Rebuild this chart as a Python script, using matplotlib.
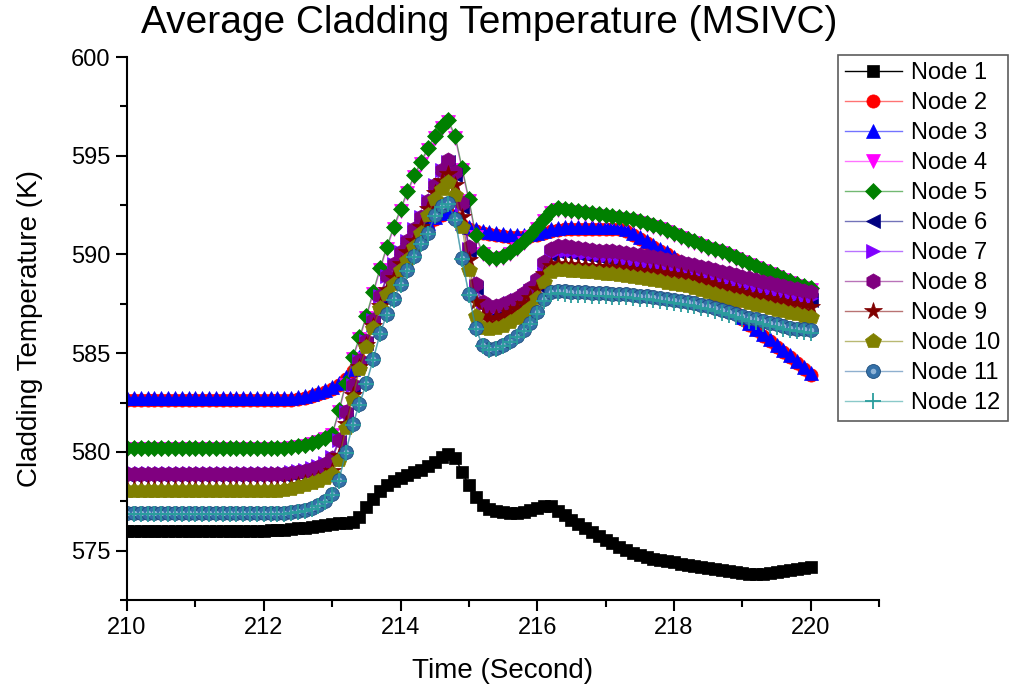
import numpy as np
import matplotlib
matplotlib.use("Agg")
import matplotlib.pyplot as plt
from matplotlib.colors import to_rgba
from matplotlib.ticker import MultipleLocator
from matplotlib.legend_handler import HandlerTuple

plt.rcParams['font.family'] = ['Liberation Sans', 'DejaVu Sans']

# Time grid: 0.1 s samples from 210 s to 220 s
time_s = np.linspace(210.0, 220.0, 101)

node1 = [
    576.0, 576.0, 576.0, 576.0, 576.0, 576.0, 576.0, 576.0, 576.0, 576.0,
    576.0, 576.0, 576.0, 576.0, 576.0, 576.0, 576.0, 576.0, 576.0, 576.0,
    576.0, 576.02, 576.05, 576.07, 576.1, 576.13, 576.17, 576.2, 576.25, 576.3,
    576.35, 576.38, 576.4, 576.45, 576.7, 577.2, 577.6, 578.0, 578.3, 578.55,
    578.7, 578.85, 579.0, 579.1, 579.3, 579.5, 579.75, 579.9, 579.7, 579.0,
    578.3, 577.7, 577.3, 577.1, 577.0, 576.95, 576.9, 576.9, 576.95, 577.05,
    577.15, 577.25, 577.25, 577.0, 576.8, 576.55, 576.35, 576.15, 575.95, 575.75,
    575.55, 575.4, 575.2, 575.05, 574.9, 574.8, 574.7, 574.6, 574.55, 574.45,
    574.4, 574.3, 574.25, 574.2, 574.15, 574.1, 574.05, 574.0, 573.95, 573.9,
    573.85, 573.8, 573.8, 573.8, 573.85, 573.9, 573.95, 574.0, 574.05, 574.1,
    574.15]

node2 = [
    582.65, 582.65, 582.65, 582.65, 582.65, 582.65, 582.65, 582.65, 582.65, 582.65,
    582.65, 582.65, 582.65, 582.65, 582.65, 582.65, 582.65, 582.65, 582.65, 582.65,
    582.65, 582.65, 582.65, 582.65, 582.65, 582.7, 582.75, 582.85, 582.95, 583.05,
    583.2, 583.4, 583.7, 584.1, 584.7, 585.5, 586.4, 587.3, 588.1, 588.8,
    589.5, 590.1, 590.6, 591.1, 591.5, 591.8, 592.0, 592.1, 591.9, 591.5,
    591.3, 591.2, 591.1, 591.05, 591.0, 590.95, 590.9, 590.9, 590.9, 590.95,
    591.0, 591.1, 591.2, 591.25, 591.3, 591.3, 591.3, 591.3, 591.3, 591.3,
    591.3, 591.3, 591.3, 591.2, 591.0, 590.8, 590.6, 590.4, 590.2, 590.0,
    589.75, 589.45, 589.15, 588.85, 588.55, 588.25, 587.95, 587.65, 587.35, 587.05,
    586.75, 586.45, 586.15, 585.85, 585.6, 585.3, 585.05, 584.8, 584.5, 584.2,
    583.9]

node3 = [
    582.75, 582.75, 582.75, 582.75, 582.75, 582.75, 582.75, 582.75, 582.75, 582.75,
    582.75, 582.75, 582.75, 582.75, 582.75, 582.75, 582.75, 582.75, 582.75, 582.75,
    582.75, 582.75, 582.75, 582.75, 582.75, 582.8, 582.85, 582.95, 583.05, 583.15,
    583.3, 583.5, 583.8, 584.2, 584.8, 585.6, 586.5, 587.4, 588.2, 588.9,
    589.6, 590.2, 590.7, 591.2, 591.6, 591.9, 592.1, 592.2, 592.0, 591.6,
    591.4, 591.3, 591.2, 591.15, 591.1, 591.05, 591.0, 591.0, 591.0, 591.05,
    591.1, 591.2, 591.3, 591.35, 591.4, 591.4, 591.4, 591.4, 591.4, 591.4,
    591.4, 591.4, 591.4, 591.3, 591.1, 590.9, 590.7, 590.5, 590.3, 590.1,
    589.85, 589.55, 589.25, 588.95, 588.65, 588.35, 588.05, 587.75, 587.45, 587.15,
    586.85, 586.55, 586.25, 585.95, 585.7, 585.4, 585.15, 584.9, 584.6, 584.3,
    584.0]

node4 = [
    580.15, 580.15, 580.15, 580.15, 580.15, 580.15, 580.15, 580.15, 580.15, 580.15,
    580.15, 580.15, 580.15, 580.15, 580.15, 580.15, 580.15, 580.15, 580.15, 580.15,
    580.15, 580.15, 580.15, 580.15, 580.2, 580.25, 580.3, 580.4, 580.5, 580.65,
    580.85, 582.0, 583.4, 584.7, 585.7, 586.8, 588.0, 589.2, 590.3, 591.3,
    592.2, 593.1, 593.9, 594.6, 595.3, 595.9, 596.4, 596.7, 595.9, 594.3,
    592.7, 590.9, 590.0, 589.75, 589.7, 589.8, 590.0, 590.3, 590.6, 590.9,
    591.3, 591.7, 592.1, 592.25, 592.2, 592.15, 592.1, 592.05, 592.0, 591.95,
    591.9, 591.85, 591.8, 591.75, 591.7, 591.6, 591.5, 591.4, 591.3, 591.15,
    591.0, 590.85, 590.7, 590.6, 590.45, 590.3, 590.2, 590.05, 589.9, 589.75,
    589.6, 589.45, 589.3, 589.15, 589.0, 588.85, 588.7, 588.55, 588.4, 588.3,
    588.2]

node5 = [
    580.2, 580.2, 580.2, 580.2, 580.2, 580.2, 580.2, 580.2, 580.2, 580.2,
    580.2, 580.2, 580.2, 580.2, 580.2, 580.2, 580.2, 580.2, 580.2, 580.2,
    580.2, 580.2, 580.2, 580.2, 580.25, 580.3, 580.35, 580.45, 580.55, 580.7,
    580.9, 582.1, 583.5, 584.8, 585.8, 586.9, 588.1, 589.3, 590.4, 591.4,
    592.3, 593.2, 594.0, 594.7, 595.4, 596.0, 596.5, 596.8, 596.0, 594.4,
    592.8, 591.0, 590.1, 589.85, 589.8, 589.9, 590.1, 590.4, 590.7, 591.0,
    591.4, 591.8, 592.2, 592.35, 592.3, 592.25, 592.2, 592.15, 592.1, 592.05,
    592.0, 591.95, 591.9, 591.85, 591.8, 591.7, 591.6, 591.5, 591.4, 591.25,
    591.1, 590.95, 590.8, 590.7, 590.55, 590.4, 590.3, 590.15, 590.0, 589.85,
    589.7, 589.55, 589.4, 589.25, 589.1, 588.95, 588.8, 588.65, 588.5, 588.4,
    588.3]

node6 = [
    578.85, 578.85, 578.85, 578.85, 578.85, 578.85, 578.85, 578.85, 578.85, 578.85,
    578.85, 578.85, 578.85, 578.85, 578.85, 578.85, 578.85, 578.85, 578.85, 578.85,
    578.85, 578.85, 578.85, 578.85, 578.9, 578.95, 579.0, 579.1, 579.2, 579.35,
    579.65, 580.5, 581.9, 583.3, 584.5, 585.5, 586.6, 587.8, 588.8, 589.4,
    590.0, 590.6, 591.2, 591.8, 592.6, 593.4, 594.2, 594.7, 594.0, 592.4,
    590.2, 588.3, 587.4, 587.2, 587.2, 587.3, 587.45, 587.6, 587.8, 588.05,
    588.45, 589.3, 589.95, 590.1, 590.1, 590.05, 590.0, 589.95, 589.9, 589.85,
    589.8, 589.75, 589.7, 589.65, 589.6, 589.55, 589.5, 589.45, 589.4, 589.3,
    589.25, 589.2, 589.1, 589.05, 588.95, 588.9, 588.8, 588.7, 588.65, 588.55,
    588.45, 588.4, 588.3, 588.2, 588.15, 588.05, 588.0, 587.9, 587.85, 587.75,
    587.7]

node7 = [
    578.95, 578.95, 578.95, 578.95, 578.95, 578.95, 578.95, 578.95, 578.95, 578.95,
    578.95, 578.95, 578.95, 578.95, 578.95, 578.95, 578.95, 578.95, 578.95, 578.95,
    578.95, 578.95, 578.95, 578.95, 579.0, 579.05, 579.1, 579.2, 579.3, 579.45,
    579.75, 580.6, 582.0, 583.4, 584.6, 585.6, 586.7, 587.9, 588.9, 589.5,
    590.1, 590.7, 591.3, 591.9, 592.7, 593.5, 594.3, 594.7, 594.1, 592.5,
    590.3, 588.4, 587.5, 587.3, 587.3, 587.4, 587.55, 587.7, 587.9, 588.15,
    588.55, 589.4, 590.05, 590.2, 590.2, 590.15, 590.1, 590.05, 590.0, 589.95,
    589.9, 589.85, 589.8, 589.75, 589.7, 589.65, 589.6, 589.55, 589.5, 589.4,
    589.35, 589.3, 589.2, 589.15, 589.05, 589.0, 588.9, 588.8, 588.75, 588.65,
    588.55, 588.5, 588.4, 588.3, 588.25, 588.15, 588.1, 588.0, 587.95, 587.85,
    587.8]

node8 = [
    578.9, 578.9, 578.9, 578.9, 578.9, 578.9, 578.9, 578.9, 578.9, 578.9,
    578.9, 578.9, 578.9, 578.9, 578.9, 578.9, 578.9, 578.9, 578.9, 578.9,
    578.9, 578.9, 578.9, 578.9, 578.95, 579.0, 579.05, 579.15, 579.25, 579.4,
    579.7, 580.6, 582.0, 583.4, 584.6, 585.6, 586.7, 587.9, 588.9, 589.5,
    590.1, 590.7, 591.3, 591.9, 592.7, 593.5, 594.3, 594.8, 594.2, 592.6,
    590.4, 588.5, 587.6, 587.4, 587.4, 587.5, 587.65, 587.8, 588.05, 588.3,
    588.75, 589.6, 590.3, 590.45, 590.45, 590.4, 590.35, 590.3, 590.25, 590.2,
    590.2, 590.15, 590.1, 590.05, 590.0, 589.95, 589.9, 589.85, 589.8, 589.7,
    589.65, 589.6, 589.5, 589.45, 589.35, 589.3, 589.2, 589.1, 589.05, 588.95,
    588.85, 588.8, 588.7, 588.6, 588.55, 588.45, 588.4, 588.3, 588.25, 588.15,
    588.1]

node9 = [
    578.1, 578.1, 578.1, 578.1, 578.1, 578.1, 578.1, 578.1, 578.1, 578.1,
    578.1, 578.1, 578.1, 578.1, 578.1, 578.1, 578.1, 578.1, 578.1, 578.1,
    578.1, 578.1, 578.1, 578.15, 578.2, 578.3, 578.4, 578.5, 578.65, 578.8,
    579.05, 579.8, 581.4, 582.9, 584.3, 585.4, 586.4, 587.4, 588.2, 588.8,
    589.5, 590.1, 590.7, 591.4, 592.3, 593.1, 593.7, 594.1, 593.5, 591.9,
    589.7, 587.6, 586.9, 586.75, 586.8, 586.9, 587.05, 587.25, 587.5, 587.8,
    588.25, 589.0, 589.4, 589.5, 589.45, 589.45, 589.4, 589.4, 589.35, 589.35,
    589.35, 589.3, 589.3, 589.25, 589.2, 589.15, 589.1, 589.1, 589.05, 589.0,
    588.95, 588.9, 588.8, 588.75, 588.65, 588.55, 588.45, 588.35, 588.25, 588.15,
    588.05, 587.95, 587.9, 587.8, 587.75, 587.65, 587.6, 587.5, 587.45, 587.4,
    587.35]

node10 = [
    578.0, 578.0, 578.0, 578.0, 578.0, 578.0, 578.0, 578.0, 578.0, 578.0,
    578.0, 578.0, 578.0, 578.0, 578.0, 578.0, 578.0, 578.0, 578.0, 578.0,
    578.0, 578.0, 578.0, 578.05, 578.1, 578.2, 578.3, 578.4, 578.55, 578.7,
    578.9, 579.6, 581.2, 582.7, 584.2, 585.3, 586.3, 587.3, 588.0, 588.5,
    589.2, 589.7, 590.4, 591.1, 592.0, 592.8, 593.3, 593.65, 593.0, 591.4,
    589.2, 586.9, 586.3, 586.2, 586.3, 586.4, 586.6, 586.8, 587.05, 587.3,
    587.8, 588.6, 589.1, 589.2, 589.2, 589.15, 589.15, 589.1, 589.1, 589.05,
    589.0, 589.0, 588.95, 588.9, 588.85, 588.8, 588.75, 588.7, 588.65, 588.55,
    588.5, 588.45, 588.4, 588.3, 588.2, 588.1, 588.0, 587.9, 587.8, 587.7,
    587.65, 587.55, 587.45, 587.4, 587.3, 587.2, 587.15, 587.05, 587.0, 586.9,
    586.85]

node11 = [
    576.9, 576.9, 576.9, 576.9, 576.9, 576.9, 576.9, 576.9, 576.9, 576.9,
    576.9, 576.9, 576.9, 576.9, 576.9, 576.9, 576.9, 576.9, 576.9, 576.9,
    576.9, 576.9, 576.9, 576.9, 576.95, 577.0, 577.05, 577.15, 577.3, 577.5,
    577.85, 578.6, 580.0, 581.4, 582.45, 583.5, 584.7, 586.0, 587.0, 587.75,
    588.5, 589.2, 589.9, 590.6, 591.1, 592.0, 592.45, 592.6, 591.8, 589.8,
    588.0, 586.3, 585.4, 585.2, 585.25, 585.4, 585.6, 585.85, 586.15, 586.55,
    587.1, 587.75, 588.1, 588.15, 588.15, 588.1, 588.1, 588.1, 588.05, 588.05,
    588.05, 588.0, 588.0, 588.0, 587.95, 587.9, 587.9, 587.85, 587.8, 587.75,
    587.7, 587.65, 587.6, 587.55, 587.45, 587.4, 587.3, 587.2, 587.1, 587.0,
    586.9, 586.8, 586.75, 586.65, 586.55, 586.5, 586.4, 586.3, 586.25, 586.2,
    586.15]

node12 = [
    576.85, 576.85, 576.85, 576.85, 576.85, 576.85, 576.85, 576.85, 576.85, 576.85,
    576.85, 576.85, 576.85, 576.85, 576.85, 576.85, 576.85, 576.85, 576.85, 576.85,
    576.85, 576.85, 576.85, 576.85, 576.9, 576.95, 577.0, 577.1, 577.25, 577.45,
    577.8, 578.55, 579.95, 581.35, 582.4, 583.45, 584.65, 585.95, 586.95, 587.7,
    588.45, 589.15, 589.85, 590.55, 591.05, 591.95, 592.4, 592.55, 591.75, 589.75,
    587.95, 586.25, 585.35, 585.15, 585.2, 585.35, 585.55, 585.8, 586.1, 586.5,
    587.0, 587.65, 588.0, 588.05, 588.0, 587.95, 587.95, 587.95, 587.9, 587.9,
    587.9, 587.85, 587.85, 587.85, 587.8, 587.75, 587.75, 587.7, 587.65, 587.6,
    587.55, 587.5, 587.45, 587.4, 587.3, 587.25, 587.15, 587.05, 586.95, 586.85,
    586.75, 586.65, 586.6, 586.5, 586.4, 586.35, 586.25, 586.15, 586.1, 586.05,
    586.0]

labels = ["Node 1", "Node 2", "Node 3", "Node 4", "Node 5", "Node 6",
          "Node 7", "Node 8", "Node 9", "Node 10", "Node 11", "Node 12"]
series = [node1, node2, node3, node4, node5, node6,
          node7, node8, node9, node10, node11, node12]

# (color, marker, marker size)
styles = [
    ("#000000", "s", 9.0),
    ("#ff0000", "o", 9.5),
    ("#0000ff", "^", 10.5),
    ("#ff00ff", "v", 10.5),
    ("#008000", "D", 7.8),
    ("#000080", "<", 10.5),
    ("#8000ff", ">", 10.5),
    ("#800080", "h", 11.0),
    ("#800000", "*", 13.0),
    ("#808000", "p", 11.5),
    ("#3470a8", "o", 10.0),
    ("#2a9d9d", "+", 11.0),
]

fig = plt.figure(figsize=(10.13, 6.91), dpi=100)
ax = fig.add_axes([0.1254, 0.1317, 0.7424, 0.7858])

handles = []
for name, vals, (col, mk, ms) in zip(labels, series, styles):
    line_col = to_rgba(col, 0.55) if col != "#000000" else col
    if mk == "+":
        ln, = ax.plot(time_s, vals, color=line_col, lw=1.0, marker=mk,
                      markersize=ms, markeredgewidth=1.3,
                      markeredgecolor=col, label=name)
        handles.append(ln)
    elif name == "Node 11":
        # shaded sphere: base disc plus a soft highlight on top
        ln, = ax.plot(time_s, vals, color=line_col, lw=1.0, marker=mk,
                      markersize=ms, markerfacecolor=col,
                      markeredgecolor="#1d4d7c", markeredgewidth=0.6,
                      label=name)
        hl, = ax.plot(time_s, vals, ls="none", marker="o", markersize=4.0,
                      markerfacecolor=(0.85, 0.92, 1.0, 0.55),
                      markeredgewidth=0)
        handles.append((ln, hl))
    else:
        ln, = ax.plot(time_s, vals, color=line_col, lw=1.0, marker=mk,
                      markersize=ms, markerfacecolor=col,
                      markeredgecolor=col, markeredgewidth=0.5, label=name)
        handles.append(ln)

ax.set_xlim(210, 221)
ax.set_ylim(572.5, 600)
ax.xaxis.set_major_locator(MultipleLocator(2))
ax.xaxis.set_minor_locator(MultipleLocator(1))
ax.yaxis.set_major_locator(MultipleLocator(5))
ax.yaxis.set_minor_locator(MultipleLocator(2.5))

for side in ("top", "right"):
    ax.spines[side].set_visible(False)
for side in ("left", "bottom"):
    ax.spines[side].set_linewidth(1.5)

ax.tick_params(which="major", direction="out", length=8, width=1.5,
               labelsize=17, pad=4)
ax.tick_params(which="minor", direction="out", length=5, width=1.5)

ax.set_xlabel("Time (Second)", fontsize=20, labelpad=14)
ax.set_ylabel("Cladding Temperature (K)", fontsize=20, labelpad=20)

fig.text(0.483, 0.967, "Average Cladding Temperature (MSIVC)",
         fontsize=28, ha="center", va="center")

leg = fig.legend(handles, labels, loc="upper left",
                 bbox_to_anchor=(838 / 1013, 1 - 55 / 691),
                 fontsize=17, frameon=True, fancybox=False,
                 edgecolor="#333333", handlelength=2.4, handletextpad=0.4,
                 labelspacing=0.34, borderpad=0.3, borderaxespad=0.0,
                 handler_map={tuple: HandlerTuple(ndivide=1, pad=0)})
leg.get_frame().set_linewidth(1.2)

fig.savefig("out.png", dpi=100)
